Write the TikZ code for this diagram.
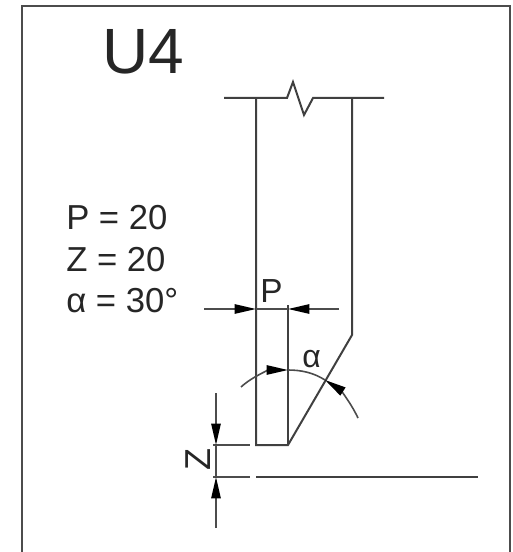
\documentclass[tikz,border=0pt]{standalone}
\usepackage{fontspec}
\setmainfont{Liberation Sans}
\usetikzlibrary{arrows.meta}
\tikzset{
  x=0.75pt,y=-0.75pt,
  part/.style={draw=black!75,line width=1.5pt,line join=miter},
  thin part/.style={draw=black!75,line width=1.3pt},
  dimline/.style={draw=black!70,line width=1.2pt},
  tip/.style={-{Triangle[length=16pt,width=7pt,color=black]}},
  lab/.style={inner sep=0pt,anchor=base west,text=black!85},
}
\begin{document}
\begin{tikzpicture}
\useasboundingbox (0,0) rectangle (512,552);
\coordinate (tl) at (22,6); \coordinate (tr) at (510,6);
\coordinate (bl) at (22,552); \coordinate (br) at (510,552);
\draw[draw=black!70,line width=1.6pt] (bl) -- (tl) -- (tr) -- (br);
\node[lab,font=\fontsize{48}{48}\selectfont] (title) at (102,74) {U4};
\node[lab,font=\fontsize{26}{26}\selectfont] (pv) at (66,229) {P = 20};
\node[lab,font=\fontsize{26}{26}\selectfont] (zv) at (66,271) {Z = 20};
\node[lab,font=\fontsize{26}{26}\selectfont] (av) at (66,312) {α = 30°};
\node[lab,font=\fontsize{25}{25}\selectfont] (plab) at (260,302) {P};
\node[lab,font=\fontsize{24}{24}\selectfont] (alab) at (302,367) {α};
\node[lab,font=\fontsize{27}{27}\selectfont,rotate=90] (zlab) at (210,471) {Z};
% break line
\coordinate (b1) at (224,98); \coordinate (b2) at (287,98); \coordinate (b3) at (293,82);
\coordinate (b4) at (304,115); \coordinate (b5) at (313,98); \coordinate (b6) at (384,98);
\draw[part] (b1) -- (b2) -- (b3) -- (b4) -- (b5) -- (b6);
% tool
\coordinate (lt) at (256,98); \coordinate (lb) at (256,445);
\coordinate (rt) at (352,98); \coordinate (rc) at (352,335);
\coordinate (tp) at (288,445); \coordinate (it) at (288,305);
\draw[part] (lt) -- (lb) -- (tp) -- (rc) -- (rt);
\draw[thin part] (it) -- (tp);
% ground
\coordinate (g1) at (256,477); \coordinate (g2) at (478,477);
\draw[part] (g1) -- (g2);
% extension lines
\coordinate (e1) at (213,445); \coordinate (e2) at (250,445);
\coordinate (e3) at (213,477); \coordinate (e4) at (250,477);
\draw[dimline] (e1) -- (e2);
\draw[dimline] (e3) -- (e4);
% P dimension
\coordinate (p1) at (204,309); \coordinate (p2) at (256,309);
\coordinate (p3) at (339,309); \coordinate (p4) at (288,309);
\draw[dimline] (p2) -- (p4);
\draw[dimline,tip] (p1) -- (p2);
\draw[dimline,tip] (p3) -- (p4);
% Z dimension
\coordinate (z1) at (216,393); \coordinate (z2) at (216,445);
\coordinate (z3) at (216,528); \coordinate (z4) at (216,477);
\draw[dimline] (z2) -- (z4);
\draw[dimline,tip] (z1) -- (z2);
\draw[dimline,tip] (z3) -- (z4);
% angle arc: centre (288,445), radius 75
\coordinate (a0) at (241,387); \coordinate (a1) at (288,370);
\coordinate (a2) at (325,380); \coordinate (a3) at (358,418);
\draw[dimline,tip] (a0) .. controls (253,376) and (270,370) .. (a1);
\draw[dimline] (a1) .. controls (302,370) and (314,373) .. (a2);
\draw[dimline,tip] (a3) .. controls (350,401) and (339,389) .. (a2);
\end{tikzpicture}
\end{document}
